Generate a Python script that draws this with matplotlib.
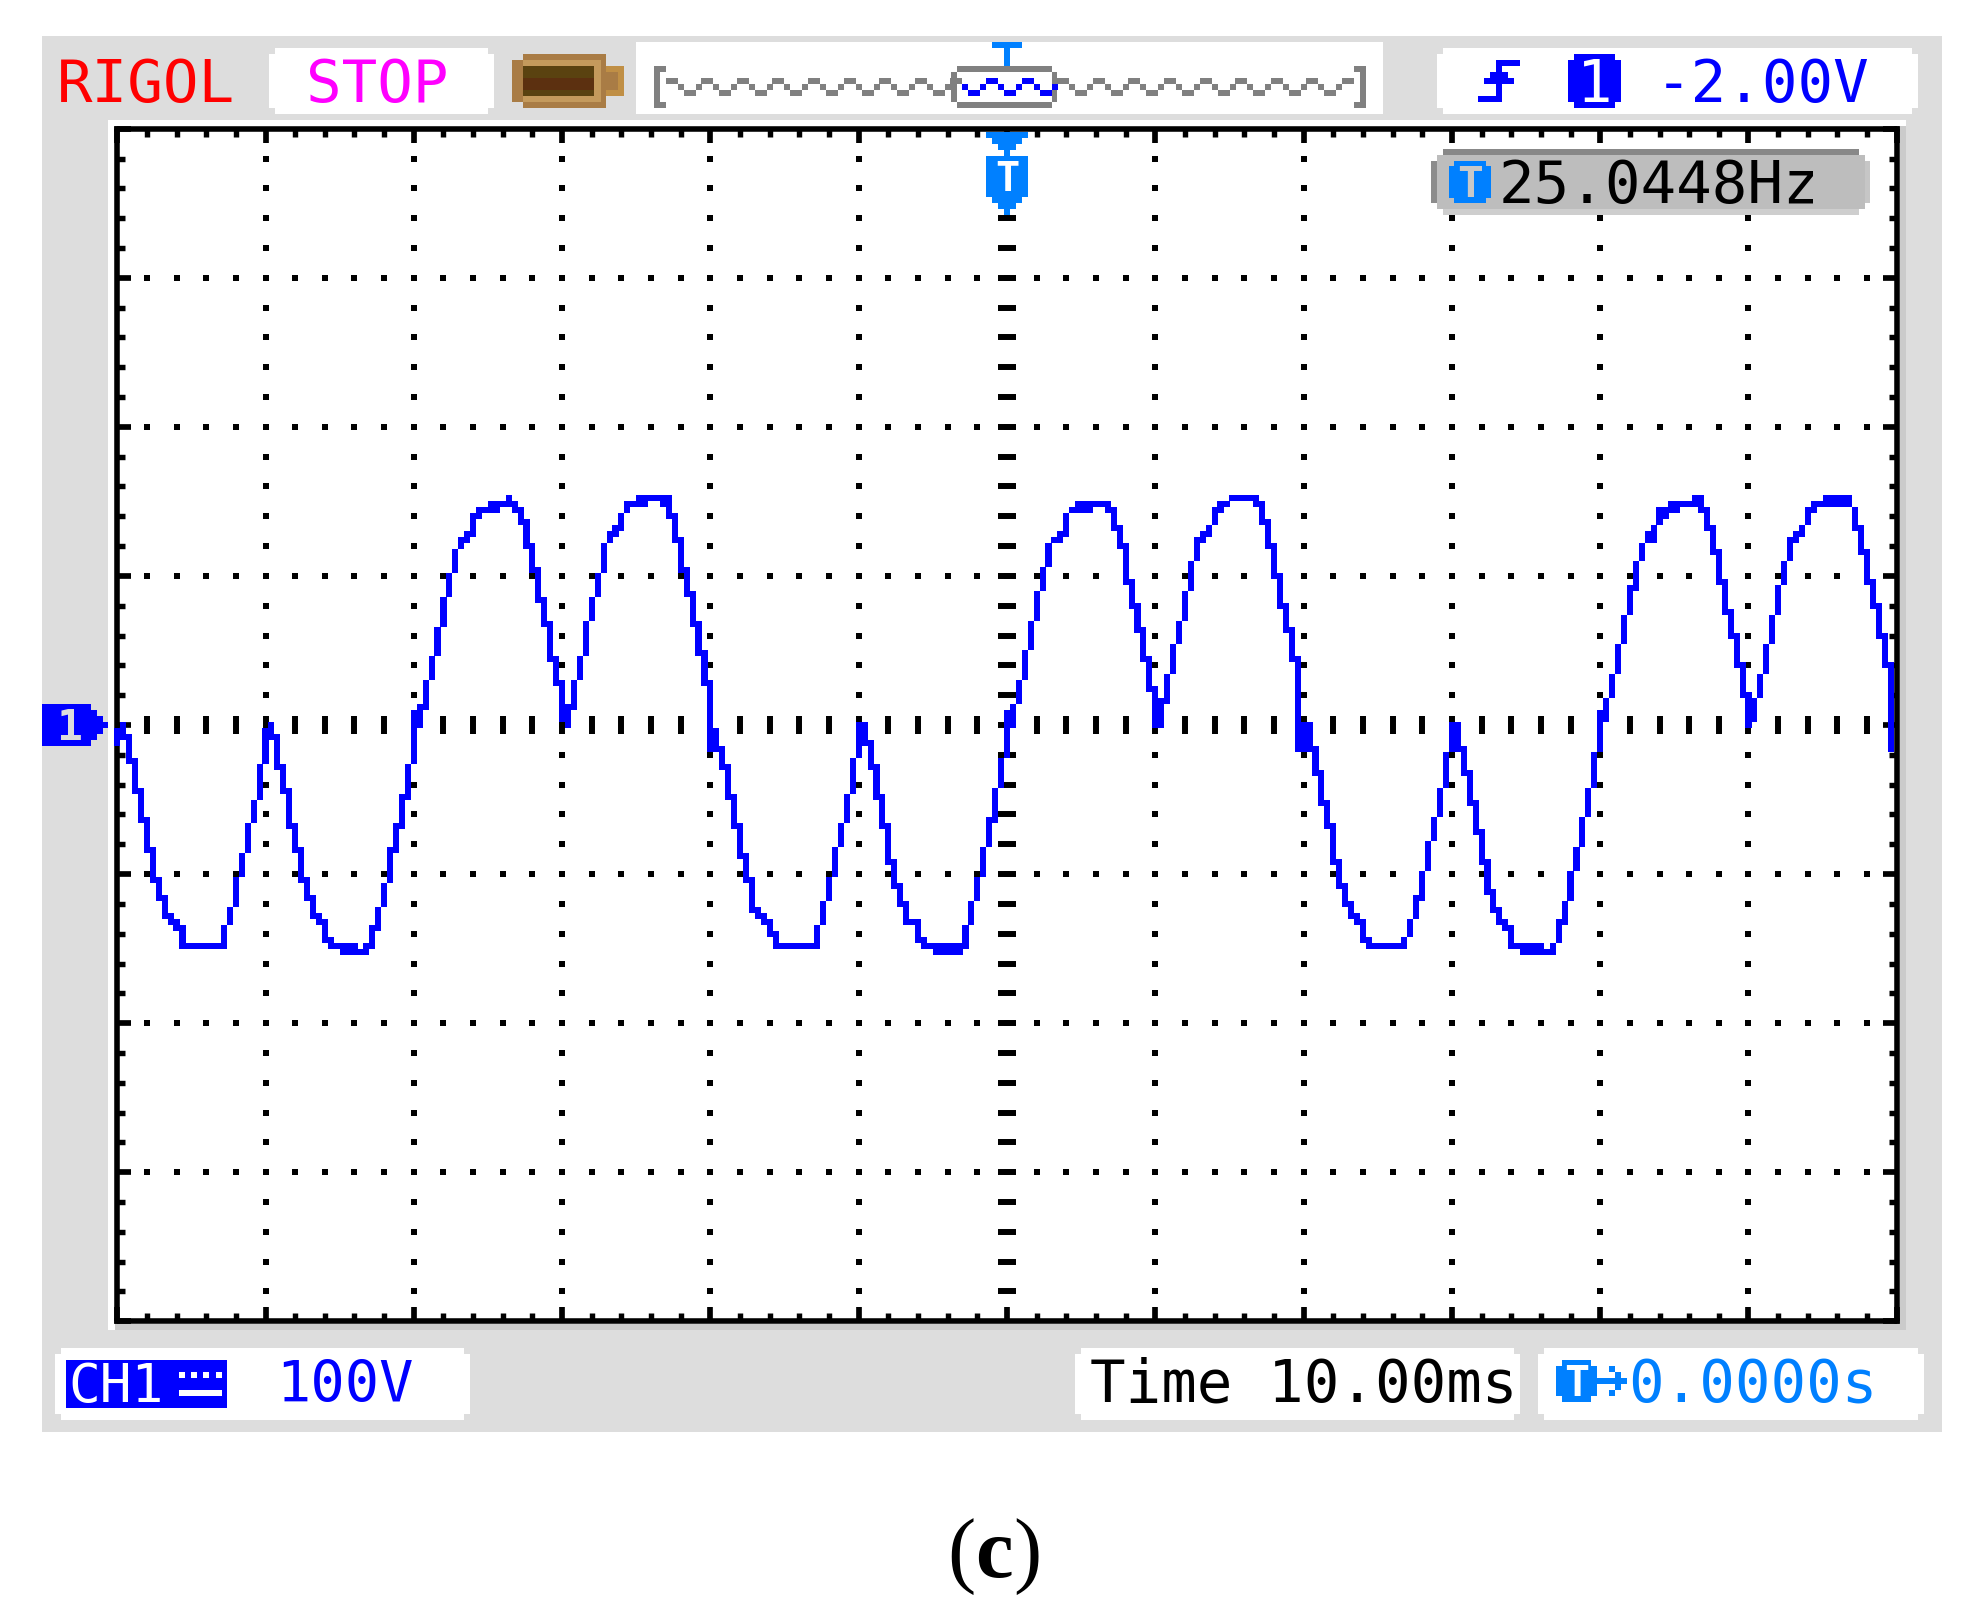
import numpy as np
import matplotlib
matplotlib.use("Agg")
import matplotlib.pyplot as plt
from matplotlib.patches import Rectangle
from matplotlib.ticker import MultipleLocator

# ---- readings of the scope screen -------------------------------------
TIME_PER_DIV_MS = 10.0
VOLT_PER_DIV = 100.0
SAMPLES_PER_DIV = 25
N_DIV_X = 12
N_DIV_Y = 8

# top and bottom LCD row lit in each screen column, relative to the centre line
trace_high_rows = [
    -1,0,-2,-6,-11,-16,-21,-26,-29,-32,
    -33,-34,-37,-37,-37,-37,-37,-37,-34,-31,
    -26,-22,-17,-13,-7,-1,0,-2,-7,-11,
    -17,-21,-26,-29,-32,-33,-36,-37,-37,-37,
    -37,-38,-37,-34,-31,-27,-21,-17,-12,-7,
    2,3,7,11,16,21,25,29,31,32,
    35,36,36,37,37,37,38,37,36,34,
    30,26,21,17,11,7,3,7,11,17,
    21,25,30,32,33,35,37,37,38,38,
    38,38,38,38,35,31,26,22,17,12,
    7,-1,-4,-7,-12,-17,-22,-26,-31,-32,
    -33,-35,-37,-37,-37,-37,-37,-37,-34,-30,
    -26,-21,-17,-12,-6,0,0,-3,-7,-12,
    -17,-23,-27,-30,-33,-33,-36,-37,-37,-37,
    -37,-37,-37,-34,-30,-26,-21,-16,-11,-6,
    2,3,7,12,17,22,26,30,31,32,
    35,36,37,37,37,37,37,37,36,33,
    30,24,20,16,11,6,4,8,13,17,
    22,27,31,32,33,36,37,37,38,38,
    38,38,38,37,34,30,25,20,16,11,
    0,0,-4,-8,-13,-17,-23,-27,-30,-32,
    -33,-36,-37,-37,-37,-37,-37,-36,-33,-29,
    -25,-20,-16,-11,-5,0,0,-4,-8,-13,
    -18,-23,-28,-31,-33,-34,-37,-37,-37,-37,
    -37,-38,-37,-33,-30,-25,-21,-16,-11,-5,
    2,4,8,13,18,23,27,30,32,33,
    36,36,37,37,37,37,38,38,36,33,
    29,24,19,15,10,5,4,8,13,18,
    23,27,31,32,33,36,37,37,38,38,
    38,38,38,36,33,29,24,20,15,10,
]
trace_low_rows = [
    -3,-2,-6,-11,-16,-21,-26,-29,-32,-33,
    -34,-37,-37,-37,-37,-37,-37,-37,-37,-33,
    -30,-25,-21,-16,-12,-6,-2,-7,-11,-17,
    -21,-26,-29,-32,-33,-36,-37,-37,-38,-38,
    -38,-38,-38,-37,-34,-30,-26,-21,-17,-12,
    -6,0,3,8,12,17,22,26,30,31,
    32,35,36,36,36,37,37,36,34,30,
    26,21,17,11,7,1,0,3,8,12,
    18,22,26,31,32,33,36,37,37,37,
    38,38,37,35,31,26,22,17,12,7,
    -4,-4,-7,-12,-17,-22,-26,-31,-32,-33,
    -35,-37,-37,-37,-37,-37,-37,-37,-37,-33,
    -29,-25,-20,-16,-11,-5,-3,-7,-12,-17,
    -23,-27,-30,-33,-33,-36,-37,-37,-38,-38,
    -38,-38,-38,-37,-33,-29,-25,-20,-16,-10,
    -5,0,4,8,13,18,23,27,31,31,
    32,36,36,36,36,37,37,36,33,30,
    24,20,16,11,6,0,0,4,9,14,
    18,23,28,31,32,34,36,37,38,38,
    38,38,37,34,30,25,20,16,11,-4,
    -4,-4,-8,-13,-17,-23,-27,-30,-32,-33,
    -36,-37,-37,-37,-37,-37,-37,-37,-35,-32,
    -29,-24,-19,-15,-10,-4,-4,-8,-13,-18,
    -23,-28,-31,-33,-34,-37,-37,-38,-38,-38,
    -38,-38,-38,-36,-33,-29,-24,-20,-15,-10,
    -4,1,5,9,14,19,23,28,31,31,
    34,35,36,36,37,37,37,36,33,29,
    24,19,15,10,5,0,1,5,9,14,
    19,24,28,31,32,34,36,37,37,37,
    37,37,37,33,29,24,20,15,10,-4,
]

brand_label = "RIGOL"
run_label = "STOP"
freq_label = "25.0448Hz"
trig_level_label = "-2.00V"
channel_label = "CH1"
scale_label = "100V"
time_label = "Time 10.00ms"
offset_label = "0.0000s"
panel_label = "c"

# ---- colours ------------------------------------------------------------
BLUE = "#0000FF"
SKY = "#0080FF"
PANEL = "#DDDDDD"
SHADE = "#CBCBCB"
GRAY = "#808080"
MONO = "DejaVu Sans Mono"
LCD_PT = 42.6

W, H = 1977, 1601
fig = plt.figure(figsize=(W / 100, H / 100), dpi=100, facecolor="white")

# ---- pixel-positioned chrome --------------------------------------------
back = fig.add_axes([0, 0, 1, 1], zorder=0)
front = fig.add_axes([0, 0, 1, 1], zorder=5)
for a in (back, front):
    a.set_xlim(0, W)
    a.set_ylim(H, 0)
    a.axis("off")
front.patch.set_alpha(0)


def box(a, x0, y0, x1, y1, color, z=1):
    a.add_patch(Rectangle((x0, y0), x1 - x0, y1 - y0, facecolor=color,
                          edgecolor="none", zorder=z))


def panel(a, x0, y0, x1, y1, notch=6, color="white", z=2):
    box(a, x0, y0 + notch, x1, y1 - notch, color, z)
    box(a, x0 + notch, y0, x1 - notch, y1, color, z)


def lcd(a, x, y, s, color, size=LCD_PT, weight="normal", ha="left"):
    a.text(x, y, s, family=MONO, fontsize=size, color=color, weight=weight,
           ha=ha, va="baseline", zorder=6)


box(back, 42, 36, 1942, 1432, PANEL)
box(back, 108, 120, 1906, 1330, "white", 2)
box(back, 1900, 126, 1906, 1330, SHADE, 3)
box(back, 115, 1324, 1906, 1330, SHADE, 3)

# top row
lcd(back, 57, 102, brand_label, "#FF0000")
panel(back, 268.5, 48, 494, 114)
lcd(back, 306, 102, run_label, "#FF00FF")

# memory-depth icon
box(back, 523, 54, 606, 108, "#A97C45", 3)
box(back, 511.5, 60, 523, 102, "#A97C45", 3)
box(back, 518, 66, 523, 96, "#A97C45", 3)
box(back, 523, 60, 601, 102, "#C49A5C", 3)
box(back, 523, 66, 594, 96, "#5A4210", 4)
box(back, 523, 78, 594, 90, "#5C3010", 5)
box(back, 606, 66, 624, 96, "#C08F45", 3)
box(back, 606, 72, 618, 90, "#A97C45", 4)

# memory overview strip
box(back, 636, 42, 1383, 114, "white", 2)
for x0, x1, y0, y1 in [(654, 660, 66, 108), (654, 666, 66, 72), (654, 666, 102, 108),
                       (1360, 1366, 66, 108), (1354, 1366, 66, 72), (1354, 1366, 102, 108),
                       (957, 1052, 66, 72), (957, 1052, 102, 108),
                       (951, 957, 72, 102), (1052, 1057, 72, 102)]:
    box(back, x0, y0, x1, y1, GRAY, 3)
period = 35.6
start = 665.6
for k in range(20):
    s = start + k * period
    segs = [(0, 12, 78, 84), (12, 18, 84, 90), (18, 30, 90, 96), (30, 36, 84, 90)]
    for a0, a1, y0, y1 in segs:
        x0, x1 = s + a0, s + a1
        if x0 >= 1354:
            continue
        inside = 957 <= x0 < 1052
        box(back, x0, y0, min(x1, 1354), y1, BLUE if inside else GRAY, 4)
box(back, 992, 42, 1022, 48, SKY, 4)
box(back, 1004, 48, 1010, 66, SKY, 4)

# trigger panel
panel(back, 1437, 48, 1918, 114)
for x0, y0, x1, y1 in [(1496, 60, 1520, 66), (1496, 66, 1502, 72), (1490, 72, 1508, 78),
                       (1484, 78, 1514, 84), (1496, 84, 1502, 96), (1478, 96, 1502, 102)]:
    box(back, x0, y0, x1, y1, BLUE, 3)
panel(back, 1568, 54, 1621, 108, notch=6, color=BLUE)
lcd(back, 1595, 102, "1", "white", ha="center")
lcd(back, 1656, 102, trig_level_label, BLUE)

# bottom row
panel(back, 55, 1348, 470, 1420)
box(back, 66, 1360, 227, 1408, BLUE, 3)
lcd(back, 68, 1402, channel_label, "white", size=38)
box(back, 179, 1390, 222, 1396, "white", 4)
for x in (179, 191, 203, 216):
    box(back, x, 1372, x + 6, 1378, "white", 4)
lcd(back, 276, 1402, scale_label, BLUE, size=41)

panel(back, 1075, 1348, 1520, 1420)
lcd(back, 1090, 1402, time_label, "black")
panel(back, 1538, 1348, 1924, 1420)
panel(back, 1556, 1360, 1597, 1402, notch=6, color=SKY, z=3)
lcd(back, 1576.5, 1396, "T", "white", size=30, weight="bold", ha="center")
# arrow icon between the T badge and the offset value
for x0, y0, x1, y1 in [(1597, 1378, 1627, 1384), (1609, 1366, 1615, 1372), (1615, 1372, 1621, 1378),
                       (1615, 1384, 1621, 1390), (1609, 1390, 1615, 1396)]:
    box(back, x0, y0, x1, y1, SKY, 3)
lcd(back, 1628, 1402, offset_label, SKY)

# panel letter
back.text(947, 1577, "(", family="Liberation Serif", fontsize=61, color="black", va="baseline", zorder=6)
back.text(975.5, 1577, panel_label, family="Liberation Serif", weight="bold", fontsize=61, color="black", va="baseline", zorder=6)
back.text(1013.5, 1577, ")", family="Liberation Serif", fontsize=61, color="black", va="baseline", zorder=6)

# ---- the scope graticule and trace --------------------------------------
left, right, top, bottom = 117.2, 1896.8, 128.7, 1321.3
ax = fig.add_axes([left / W, 1 - bottom / H, (right - left) / W, (bottom - top) / H], zorder=2)
ax.patch.set_alpha(0)
half_t = TIME_PER_DIV_MS * N_DIV_X / 2
half_v = VOLT_PER_DIV * N_DIV_Y / 2
ax.set_xlim(-half_t, half_t)
ax.set_ylim(-half_v, half_v)

ms_per_col = TIME_PER_DIV_MS / SAMPLES_PER_DIV
v_per_row = VOLT_PER_DIV / SAMPLES_PER_DIV
sub_t = ms_per_col * 5
sub_v = v_per_row * 5

for s in ax.spines.values():
    s.set_linewidth(4.0)
    s.set_color("black")
ax.xaxis.set_major_locator(MultipleLocator(TIME_PER_DIV_MS))
ax.xaxis.set_minor_locator(MultipleLocator(sub_t))
ax.yaxis.set_major_locator(MultipleLocator(VOLT_PER_DIV))
ax.yaxis.set_minor_locator(MultipleLocator(sub_v))
ax.tick_params(which="major", direction="in", length=10.2, width=4.1, top=True, right=True,
               labelbottom=False, labelleft=False)
ax.tick_params(which="minor", direction="in", length=5.9, width=3.9, top=True, right=True)

div_t = np.arange(-half_t, half_t + 1e-6, TIME_PER_DIV_MS)
div_v = np.arange(-half_v, half_v + 1e-6, VOLT_PER_DIV)
fine_t = np.arange(-half_t, half_t + 1e-6, sub_t)
fine_v = np.arange(-half_v, half_v + 1e-6, sub_v)
dot = dict(linestyle="none", marker="s", ms=4.3, mew=0, color="black", zorder=1, clip_on=False)
for v in div_v[1:-1]:
    if v != 0:
        ax.plot(fine_t[1:-1], np.full(fine_t.size - 2, v), **dot)
for t in div_t[1:-1]:
    if t != 0:
        ax.plot(np.full(fine_v.size - 2, t), fine_v[1:-1], **dot)
ax.vlines(fine_t[1:-1], -1.5 * v_per_row, 1.5 * v_per_row, colors="black", lw=4.3, capstyle="butt", zorder=1)
ax.hlines(fine_v[1:-1], -1.5 * ms_per_col, 1.5 * ms_per_col, colors="black", lw=4.3, capstyle="butt", zorder=1)

cols = np.arange(len(trace_high_rows))
time_ms = (cols - cols.size / 2) * ms_per_col
high = np.array(trace_high_rows) * v_per_row
low = np.array(trace_low_rows) * v_per_row
ax.bar(time_ms, high - low + v_per_row, bottom=low - v_per_row / 2, width=ms_per_col * 1.03,
       color=BLUE, linewidth=0, zorder=4, clip_on=False)

# ---- overlays on the screen ---------------------------------------------
# trigger position marker
for x0, y0, x1, y1 in [(986, 132, 1028, 138), (992, 138, 1022, 144), (998, 144, 1016, 150),
                       (1004, 150, 1010, 156), (986, 156, 1028, 197), (992, 197, 1022, 203),
                       (998, 203, 1016, 209), (1004, 209, 1010, 215)]:
    box(front, x0, y0, x1, y1, SKY, 3)
lcd(front, 1007, 191, "T", "white", size=29, weight="bold", ha="center")

# measurement box
box(front, 1443, 149, 1859, 155, "#888888", 3)
box(front, 1431, 161, 1437, 203, "#8C8C8C", 3)
box(front, 1437, 155, 1865, 209, "#BDBDBD", 3)
box(front, 1865, 161, 1870, 203, "#C6C6C6", 3)
box(front, 1443, 209, 1859, 215, "#CECECE", 3)
panel(front, 1449, 161, 1491, 203, notch=5, color=SKY, z=4)
lcd(front, 1470, 197, "T", "#C8C8C8", size=31, weight="bold", ha="center")
lcd(front, 1499, 203, freq_label, "black")

# channel 1 ground marker
for x0, y0, x1, y1 in [(42, 704, 90.5, 746), (90.5, 710, 96.5, 740), (96.5, 716, 102.5, 734),
                       (102.5, 722, 108, 728)]:
    box(front, x0, y0, x1, y1, BLUE, 3)
lcd(front, 70, 740, "1", PANEL, size=31, weight="bold", ha="center")

fig.savefig("out.png", dpi=100, facecolor="white")
